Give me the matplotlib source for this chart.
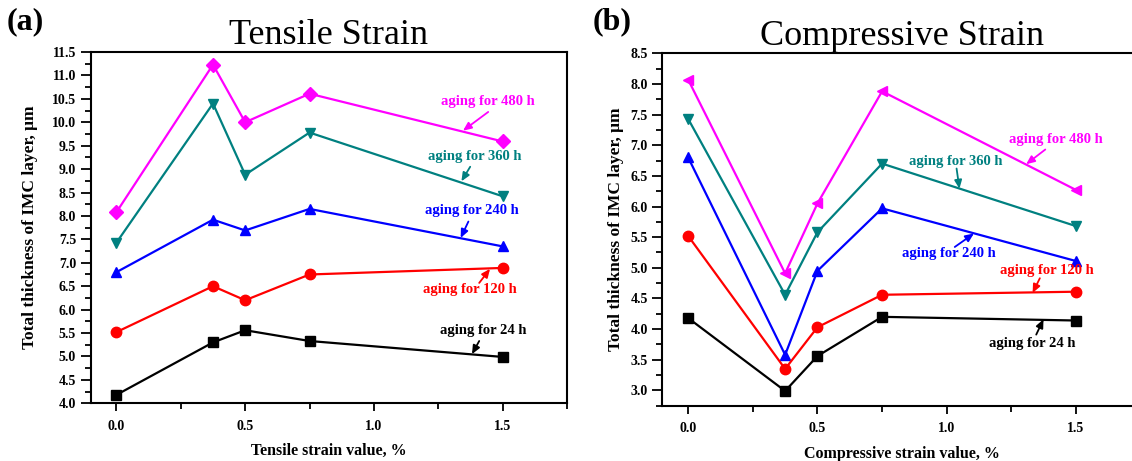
import matplotlib
matplotlib.use("Agg")
import matplotlib.pyplot as plt
from matplotlib.ticker import MultipleLocator, FormatStrFormatter

plt.rcParams['font.family'] = ['Liberation Serif', 'DejaVu Serif']
plt.rcParams['font.weight'] = 'bold'

strain = [0.0, 0.375, 0.5, 0.75, 1.5]
series_names = ["aging for 480 h", "aging for 360 h", "aging for 240 h",
                "aging for 120 h", "aging for 24 h"]
colors = ["#FF00FF", "#008080", "#0000FF", "#FF0000", "#000000"]

tensile_480 = [8.08, 11.23, 10.00, 10.61, 9.59]
tensile_360 = [7.43, 10.40, 8.88, 9.78, 8.42]
tensile_240 = [6.80, 7.92, 7.69, 8.15, 7.35]
tensile_120 = [5.52, 6.50, 6.20, 6.75, 6.89]
tensile_24 = [4.18, 5.30, 5.56, 5.33, 4.99]

comp_480 = [8.07, 4.91, 6.05, 7.88, 6.27]
comp_360 = [7.43, 4.56, 5.58, 6.70, 5.68]
comp_240 = [6.80, 3.58, 4.95, 5.97, 5.11]
comp_120 = [5.52, 3.35, 4.03, 4.56, 4.61]
comp_24 = [4.18, 2.99, 3.56, 4.20, 4.14]

tensile_markers = ["D", "v", "^", "o", "s"]
comp_markers = ["<", "v", "^", "o", "s"]

# annotation (text xy, arrow tail, arrow head) in data coords
tensile_notes = [((1.444, 10.45), (1.444, 10.22), (1.346, 9.82)),
                 ((1.393, 9.27), (1.374, 9.05), (1.340, 8.74)),
                 ((1.381, 8.11), (1.367, 7.88), (1.337, 7.53)),
                 ((1.374, 6.43), (1.409, 6.57), (1.451, 6.87)),
                 ((1.423, 5.55), (1.409, 5.33), (1.381, 5.05))]
comp_notes = [((1.423, 7.09), (1.381, 6.93), (1.307, 6.69)),
              ((1.035, 6.74), (1.038, 6.62), (1.049, 6.29)),
              ((1.010, 5.23), (1.031, 5.34), (1.105, 5.56)),
              ((1.388, 4.95), (1.360, 4.83), (1.332, 4.59)),
              ((1.332, 3.77), (1.346, 3.91), (1.374, 4.16))]

W, H = 1132, 461
fig = plt.figure(figsize=(W / 100, H / 100), dpi=100)


def frac(l, t, r, b):
    return [l / W, (H - b) / H, (r - l) / W, (b - t) / H]


ax1 = fig.add_axes(frac(90.7, 52, 567, 403.3))
ax2 = fig.add_axes(frac(662.3, 53.3, 1140.7, 405.7))


def draw(ax, data, markers, notes, ylim, title, xlabel, label, label_x,
         ylab_x):
    for vals, m, c, name, (txy, tail, head) in zip(data, markers, colors,
                                                  series_names, notes):
        ax.plot(strain, vals, color=c, marker=m, markersize=7.5, lw=1.6,
                clip_on=False)
        ax.text(txy[0], txy[1], name, color=c, fontsize=10.5,
                fontweight='bold', ha='center', va='center')
        ax.annotate("", xy=head, xytext=tail,
                    arrowprops=dict(arrowstyle="-|>,head_length=0.5,head_width=0.22",
                                    color=c, lw=1.3, shrinkA=0, shrinkB=0))
    ax.set_xlim(-0.1, 1.75)
    ax.set_ylim(*ylim)
    ax.xaxis.set_major_locator(MultipleLocator(0.5))
    ax.xaxis.set_minor_locator(MultipleLocator(0.25))
    ax.yaxis.set_major_locator(MultipleLocator(0.5))
    ax.yaxis.set_minor_locator(MultipleLocator(0.25))
    ax.xaxis.set_major_formatter(FormatStrFormatter('%.1f'))
    ax.yaxis.set_major_formatter(FormatStrFormatter('%.1f'))
    ax.tick_params(which='major', direction='out', length=7, width=1.3,
                   labelsize=10, top=False, right=False)
    ax.tick_params(axis='x', which='major', length=6, pad=6)
    ax.tick_params(which='minor', direction='out', length=4, width=1.3,
                   top=False, right=False)
    for lab in ax.get_xticklabels() + ax.get_yticklabels():
        lab.set_fontweight('bold')
    for s in ax.spines.values():
        s.set_linewidth(1.5)
    ax.set_title(title, fontsize=26, fontweight='normal', pad=5)
    ax.set_xlabel(xlabel, fontsize=11.5, fontweight='bold')
    ax.xaxis.set_label_coords(0.5, -0.113)
    ax.set_ylabel("Total thickness of IMC layer, \u03bcm", fontsize=12.5,
                  fontweight='bold')
    ax.yaxis.set_label_coords(ylab_x, 0.5)
    fig.text(label_x / W, 1 - 22 / H, label, fontsize=23, fontweight='bold',
             ha='center', va='center')


draw(ax1, [tensile_480, tensile_360, tensile_240, tensile_120, tensile_24],
     tensile_markers, tensile_notes, (4.0, 11.5), "Tensile Strain",
     "Tensile strain value, %", "(a)", 25, -0.110)
draw(ax2, [comp_480, comp_360, comp_240, comp_120, comp_24],
     comp_markers, comp_notes, (2.75, 8.5), "Compressive Strain",
     "Compressive strain value, %", "(b)", 612, -0.080)

fig.savefig("out.png", dpi=100)
